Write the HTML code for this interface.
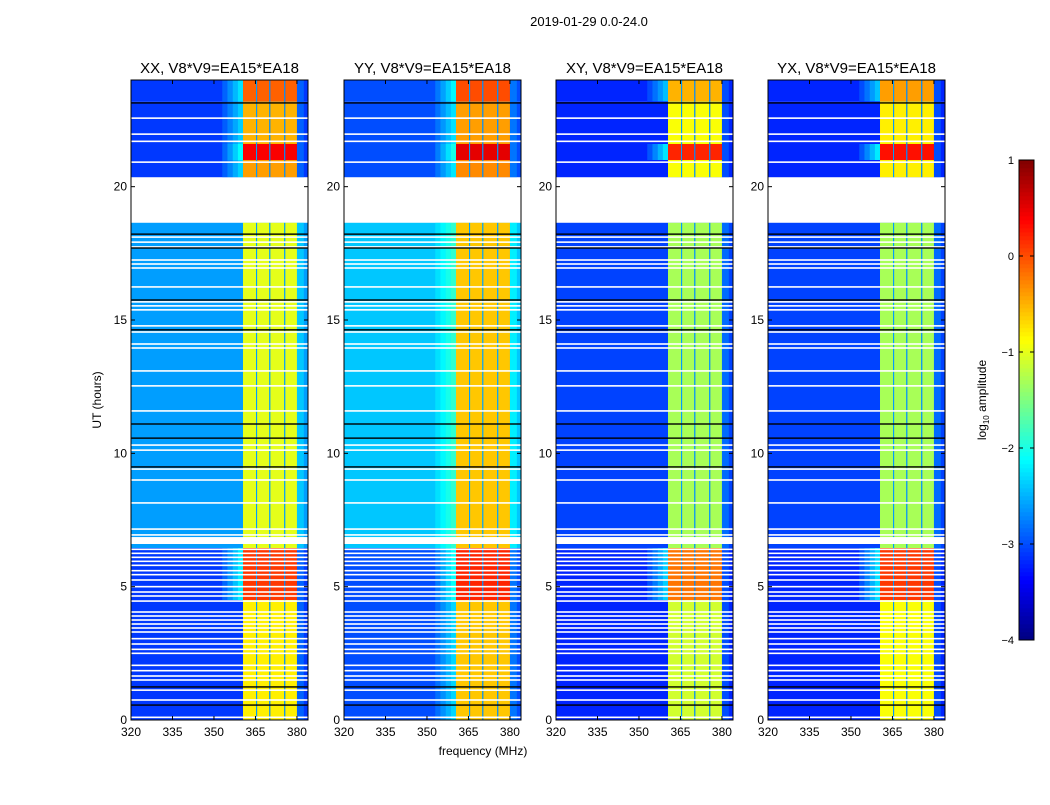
<!DOCTYPE html>
<html><head><meta charset="utf-8"><style>
body{margin:0;background:#fff}
svg text{font-family:"Liberation Sans",sans-serif;fill:#000}
</style></head><body>
<svg id="fig" width="1050" height="800" viewBox="0 0 1050 800" xmlns="http://www.w3.org/2000/svg">
<rect width="1050" height="800" fill="#fff"/>
<text x="589" y="26" font-size="13" text-anchor="middle">2019-01-29 0.0-24.0</text>
<text x="483" y="755" font-size="12" text-anchor="middle">frequency (MHz)</text>
<text x="101" y="400" font-size="12" text-anchor="middle" transform="rotate(-90 101 400)">UT (hours)</text>
<g id="panels"></g>
<g id="cbar"></g>
</svg>
<script>
// ---- data ----
const panelTitles = ["XX, V8*V9=EA15*EA18","YY, V8*V9=EA15*EA18","XY, V8*V9=EA15*EA18","YX, V8*V9=EA15*EA18"];
const segStart = [0, 4.5, 6.45, 20.35, 21.0, 21.6, 23.2];
const segEnd   = [4.5, 6.45, 18.65, 21.0, 21.6, 23.2, 24];
const bgXX = [-3.1,-3.1,-2.6,-3.1,-3.1,-3.1,-3.1];
const bgYY = [-3.0,-3.0,-2.4,-3.0,-3.0,-3.0,-3.0];
const bgXY = [-3.2,-3.2,-3.05,-3.2,-3.2,-3.2,-3.2];
const bgYX = [-3.2,-3.2,-3.05,-3.2,-3.2,-3.2,-3.2];
const bandXX = [-0.8,0.1,-1.0,-0.4,0.4,-0.5,-0.1];
const bandYY = [-0.6,0.2,-0.6,-0.3,0.5,-0.4,0.0];
const bandXY = [-1.1,-0.2,-1.3,-0.9,0.2,-0.9,-0.5];
const bandYX = [-0.9,0.1,-1.3,-0.8,0.3,-0.8,-0.4];
const bandLo = [360.5, 365.6, 370.4, 375.8];
const bandHi = [365.2, 370.0, 375.4, 380.0];
const gapLevel = -2.6;
const gapHoursLo = [18.65, 6.6];
const gapHoursHi = [20.35, 6.86];
const whiteLines = [22.57,21.97,21.7,20.92,18.11,17.92,17.74,17.25,17.1,16.95,16.24,15.68,15.53,15.38,14.78,14.55,14.1,13.95,13.09,12.53,11.59,10.31,10.12,9.41,9.0,8.14,7.16,6.94,6.4,6.25,6.1,5.95,5.8,5.6,5.45,5.25,5.0,4.8,4.65,4.46,4.05,3.9,3.75,3.6,3.45,3.3,3.05,2.85,2.65,2.5,2.05,1.85,1.65,1.5,1.12,0.75,0.1];
const blackLines = [23.14,18.22,17.7,15.75,14.63,11.1,10.57,9.49,1.24,0.56];
const xTicks = [320,335,350,365,380];
const yTicks = [0,5,10,15,20];
const cbTicks = [1,0,-1,-2,-3,-4];
const cbLabels = ["1","0","\u22121","\u22122","\u22123","\u22124"];
// ---- helpers ----
const NS="http://www.w3.org/2000/svg";
const panelX=[131,344,556,768], PW=177, PT=80, PH=640;
const FMIN=320,FMAX=384,TMIN=0,TMAX=24,VMIN=-4,VMAX=1;
const bgs=[bgXX,bgYY,bgXY,bgYX], bands=[bandXX,bandYY,bandXY,bandYX];
function xs(p,f){return panelX[p]+(f-FMIN)/(FMAX-FMIN)*PW;}
function ys(t){return PT+PH-(t-TMIN)/(TMAX-TMIN)*PH;}
function clip(v){return Math.max(0,Math.min(1,v));}
function jet(v){const n=clip((v-VMIN)/(VMAX-VMIN));
 const r=clip(1.5-Math.abs(4*n-3)),g=clip(1.5-Math.abs(4*n-2)),b=clip(1.5-Math.abs(4*n-1));
 return `rgb(${Math.round(r*255)},${Math.round(g*255)},${Math.round(b*255)})`;}
function mk(tag,attrs,parent){const e=document.createElementNS(NS,tag);for(const k in attrs)e.setAttribute(k,attrs[k]);parent.appendChild(e);return e;}
const root=document.getElementById('panels');
for(let p=0;p<4;p++){
 const g=mk('g',{},root);
 
 
 const x0=panelX[p];
 function cell(f0,f1,t0,t1,v,name){
  const r=mk('rect',{x:xs(p,f0),y:ys(t1),width:xs(p,f1)-xs(p,f0),height:ys(t0)-ys(t1),fill:jet(v)},g);
  
  
 }
 for(let s=0;s<segStart.length;s++){
  const t0=segStart[s],t1=segEnd[s],bg=bgs[p][s],bd=bands[p][s];
  cell(FMIN,FMAX,t0,t1,bg,'background-cell');
  if(bd>-0.7){ // faint halo to the left of bands
   const steps=4;
   for(let k=0;k<steps;k++){
    const f0=353+k*(7.5/steps),f1=f0+7.5/steps+0.05;
    cell(f0,f1,t0,t1,bg+(k+1)/(steps+1)*0.35*(bd-bg),'halo-cell');
   }
  }
  cell(bandHi[3],382.5,t0,t1,bg+0.2,'right-edge-cell');
  for(let b=0;b<bandLo.length;b++){
   cell(bandLo[b],bandHi[b],t0,t1,bd,'band-cell');
   if(b<bandLo.length-1) cell(bandHi[b],bandLo[b+1],t0,t1,gapLevel,'band-gap-cell');
  }
 }
 for(let i=0;i<gapHoursLo.length;i++){
  const r=mk('rect',{x:x0,y:ys(gapHoursHi[i]),width:PW,height:ys(gapHoursLo[i])-ys(gapHoursHi[i]),fill:'#fff'},g);
  
  
 }
 whiteLines.forEach(t=>{const r=mk('rect',{x:x0,y:ys(t)-0.8,width:PW,height:1.6,fill:'#fff'},g);
  
  });
 blackLines.forEach(t=>{const r=mk('rect',{x:x0,y:ys(t)-0.7,width:PW,height:1.4,fill:'#000'},g);
  
  });
 const fr=mk('rect',{x:x0,y:PT,width:PW,height:PH,fill:'none',stroke:'#000','stroke-width':1},g);
 
 
 const tt=mk('text',{x:x0+PW/2,y:PT-7,'font-size':15,'text-anchor':'middle'},g);
 tt.textContent=panelTitles[p];
 
 
 xTicks.forEach(f=>{const x=xs(p,f);
  mk('line',{x1:x,x2:x,y1:PT+PH,y2:PT+PH-4,stroke:'#000'},g);
  mk('line',{x1:x,x2:x,y1:PT,y2:PT+4,stroke:'#000'},g);
  const t=mk('text',{x:x,y:PT+PH+16,'font-size':12,'text-anchor':'middle'},g);t.textContent=f;
  
  });
 yTicks.forEach(v=>{const y=ys(v);
  mk('line',{x1:x0,x2:x0+4,y1:y,y2:y,stroke:'#000'},g);
  mk('line',{x1:x0+PW,x2:x0+PW-4,y1:y,y2:y,stroke:'#000'},g);
  const t=mk('text',{x:x0-4,y:y+4,'font-size':12,'text-anchor':'end'},g);t.textContent=v;
  
  });
}
// colorbar
const cb=document.getElementById('cbar');
const CBX=1019,CBW=15,CBT=160,CBH=480;
function cy(v){return CBT+(VMAX-v)/(VMAX-VMIN)*CBH;}
for(let i=0;i<120;i++){const v0=VMIN+i*(VMAX-VMIN)/120;
 mk('rect',{x:CBX,y:cy(v0+(VMAX-VMIN)/120)-0.3,width:CBW,height:CBH/120+0.6,fill:jet(v0+(VMAX-VMIN)/240)},cb);}
mk('rect',{x:CBX,y:CBT,width:CBW,height:CBH,fill:'none',stroke:'#000'},cb);
cbTicks.forEach((v,i)=>{const y=cy(v);
 mk('line',{x1:CBX,x2:CBX+4,y1:y,y2:y,stroke:'#000'},cb);
 mk('line',{x1:CBX+CBW,x2:CBX+CBW-4,y1:y,y2:y,stroke:'#000'},cb);
 const t=mk('text',{x:CBX-5,y:y+4,'font-size':11,'text-anchor':'end'},cb);t.textContent=cbLabels[i];
 
 });
const cl=mk('text',{x:986,y:400,'font-size':12,'text-anchor':'middle',transform:'rotate(-90 986 400)'},cb);
cl.innerHTML='log<tspan font-size="8" dy="3">10</tspan><tspan dy="-3"> amplitude</tspan>';


</script>
</body></html>
